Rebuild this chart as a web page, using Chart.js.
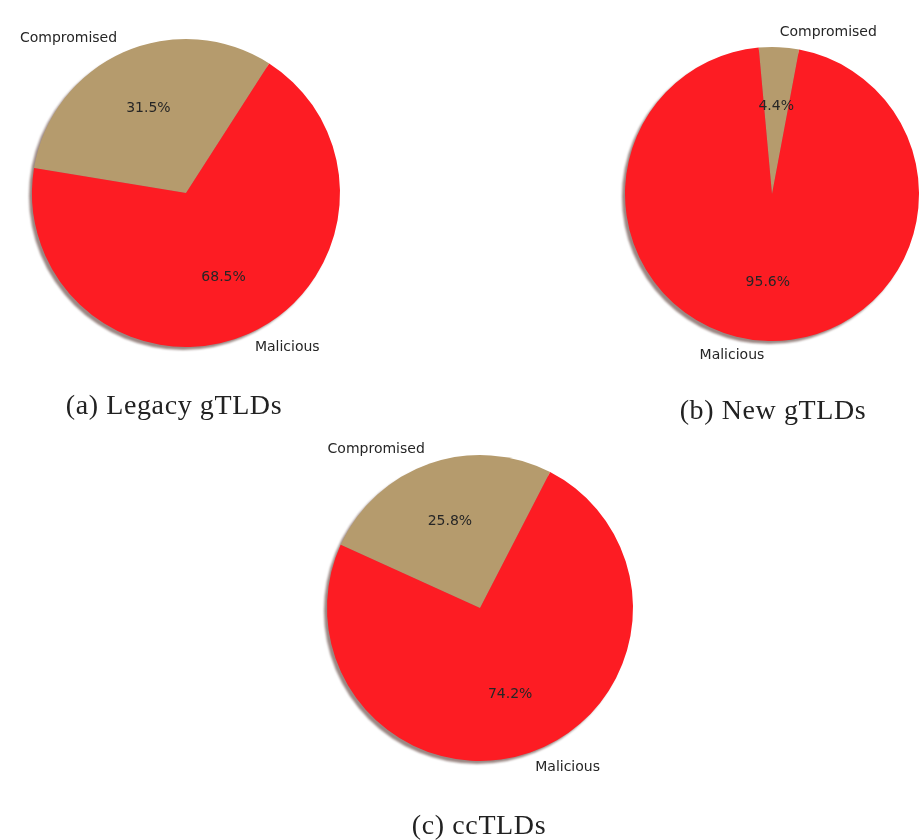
<!DOCTYPE html>
<html>
<head>
<meta charset="utf-8">
<script src="https://cdn.jsdelivr.net/npm/chart.js@4.4.1/dist/chart.umd.min.js"></script>
<style>
  html, body { margin: 0; padding: 0; background: #ffffff; }
  #stage { position: relative; width: 919px; height: 840px; overflow: hidden; }
  #stage canvas { position: absolute; left: 0; top: 0; }
  .cap { position: absolute; transform: translateX(-50%);
         font-family: "Liberation Serif", "DejaVu Serif", serif;
         font-size: 28px; letter-spacing: 0.6px; color: #222222;
         white-space: nowrap; line-height: 1; }
</style>
</head>
<body>
<div id="stage">
  <canvas id="pieA" width="919" height="840"></canvas>
  <canvas id="pieB" width="919" height="840"></canvas>
  <canvas id="pieC" width="919" height="840"></canvas>
  <div class="cap" style="left:174px; top:391px;">(a) Legacy gTLDs</div>
  <div class="cap" style="left:773px; top:396px;">(b) New gTLDs</div>
  <div class="cap" style="left:479px; top:811px;">(c) ccTLDs</div>
</div>
<script>
// Slice names, shared by all three pies
const categories = ['Compromised', 'Malicious'];

// Share of domains (%) in each TLD group
const legacyValues = [31.5, 68.5];
const newValues = [4.4, 95.6];
const ccValues = [25.8, 74.2];

const sliceColors = ['#b59b6d', '#fd1c23'];

// Draws a soft drop shadow disc under the pie, using the arc geometry
const pieShadow = {
  id: 'pieShadow',
  beforeDatasetsDraw(chart) {
    const arcs = chart.getDatasetMeta(0).data;
    if (!arcs.length) return;
    const { x, y, outerRadius } = arcs[0].getProps(['x', 'y', 'outerRadius'], true);
    const ctx = chart.ctx;
    ctx.save();
    ctx.fillStyle = 'rgba(120, 95, 90, 0.75)';
    ctx.filter = 'blur(1px)';
    ctx.beginPath();
    ctx.arc(x - 3, y + 3, outerRadius, 0, Math.PI * 2);
    ctx.fill();
    ctx.restore();
  }
};

// Category names outside each slice and percentages inside it
const sliceLabels = {
  id: 'sliceLabels',
  afterDatasetsDraw(chart) {
    const ctx = chart.ctx;
    const meta = chart.getDatasetMeta(0);
    const values = chart.data.datasets[0].data;
    ctx.save();
    ctx.font = '14px "DejaVu Sans", sans-serif';
    ctx.fillStyle = '#262626';
    ctx.textBaseline = 'middle';
    meta.data.forEach((arc, i) => {
      const p = arc.getProps(['x', 'y', 'startAngle', 'endAngle', 'outerRadius'], true);
      const mid = (p.startAngle + p.endAngle) / 2;
      const cx = Math.cos(mid), cy = Math.sin(mid);
      // name at 1.1 radius, aligned away from the centre
      const lx = p.x + cx * p.outerRadius * 1.1;
      const ly = p.y + cy * p.outerRadius * 1.1;
      ctx.textAlign = cx >= 0 ? 'left' : 'right';
      ctx.fillText(chart.data.labels[i], lx, ly);
      // percentage at 0.6 radius
      ctx.textAlign = 'center';
      ctx.fillText(values[i].toFixed(1) + '%', p.x + cx * p.outerRadius * 0.6, p.y + cy * p.outerRadius * 0.6);
    });
    ctx.restore();
  }
};

function makePie(id, values, cx, cy, r, rotation) {
  const W = 919, H = 840;
  return new Chart(document.getElementById(id), {
    type: 'pie',
    data: {
      labels: categories,
      datasets: [{
        data: values,
        backgroundColor: sliceColors,
        borderWidth: 0,
        hoverOffset: 0
      }]
    },
    options: {
      responsive: false,
      animation: false,
      events: [],
      rotation: rotation,
      radius: r,
      layout: {
        padding: { left: cx - r, right: W - cx - r, top: cy - r, bottom: H - cy - r }
      },
      plugins: {
        legend: { display: false },
        tooltip: { enabled: false },
        title: { display: false }
      }
    },
    plugins: [pieShadow, sliceLabels]
  });
}

makePie('pieA', legacyValues, 186, 193, 154, -80.7);
makePie('pieB', newValues, 772, 194, 147, -5.2);
makePie('pieC', ccValues, 480, 608, 153, -65.6);
</script>
</body>
</html>
